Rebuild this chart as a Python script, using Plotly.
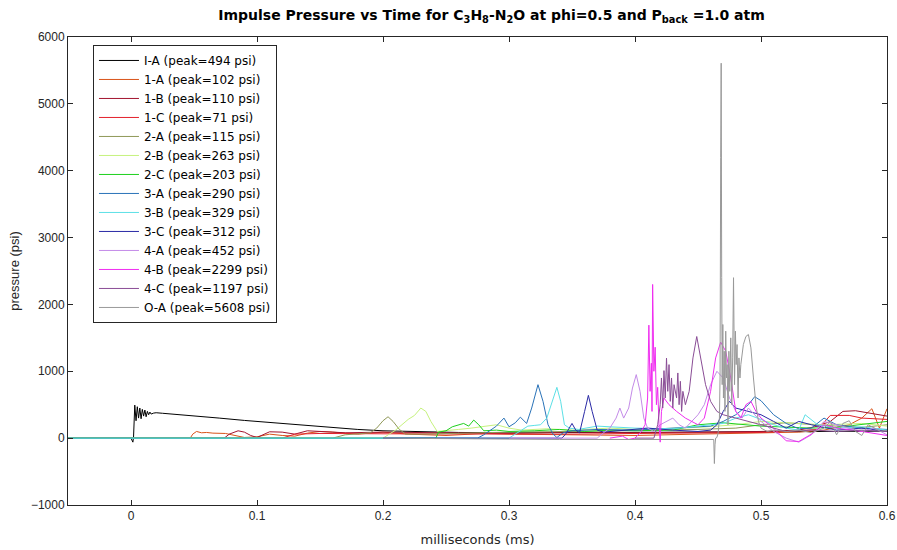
import plotly.graph_objects as go

# ---- pressure traces (time in ms, pressure in psi) ----
names = ["I-A", "1-A", "1-B", "1-C", "2-A", "2-B", "2-C",
         "3-A", "3-B", "3-C", "4-A", "4-B", "4-C", "O-A"]
peaks = [494, 102, 110, 71, 115, 263, 203, 290, 329, 312, 452, 2299, 1197, 5608]
colors = ["#000000", "#D95319", "#A2142F", "#E3212B", "#909858", "#C6F27E",
          "#1ED01E", "#2A73B8", "#5CE0E6", "#2A2AA6", "#C48BE8", "#F02CF0",
          "#8A4D96", "#999999"]

t_IA = [-0.05, 0.0, 0.0015, 0.002, 0.003, 0.004, 0.005, 0.006, 0.007, 0.008, 0.009,
        0.010, 0.011, 0.012, 0.013, 0.014, 0.015, 0.016, 0.018, 0.020, 0.025, 0.035,
        0.05, 0.07, 0.09, 0.10, 0.12, 0.14, 0.16, 0.18, 0.20, 0.23, 0.26, 0.30, 0.35,
        0.40, 0.45, 0.50, 0.55, 0.60]
p_IA = [0, 0, -60, 10, 494, 260, 470, 300, 450, 290, 430, 330, 420, 320, 400, 350,
        390, 360, 375, 380, 372, 358, 335, 300, 265, 250, 215, 185, 155, 130, 110,
        95, 85, 80, 80, 85, 90, 95, 100, 105]

t_1A = [-0.05, 0.047, 0.049, 0.052, 0.056, 0.06, 0.065, 0.07, 0.075, 0.08, 0.09, 0.1,
        0.11, 0.12, 0.13, 0.14, 0.15, 0.16, 0.18, 0.2, 0.22, 0.25, 0.28, 0.3, 0.35,
        0.4, 0.45, 0.5, 0.53, 0.55, 0.57, 0.58, 0.588, 0.594, 0.6]
p_1A = [0, 0, 60, 100, 80, 85, 75, 70, 70, 50, 10, 20, 60, 40, 30, 75, 100, 90, 60,
        90, 60, 40, 70, 60, 50, 40, 60, 80, 90, 120, 200, 300, 440, 150, 440]

t_1B = [-0.05, 0.074, 0.078, 0.085, 0.09, 0.095, 0.1, 0.105, 0.11, 0.12, 0.13, 0.14,
        0.15, 0.17, 0.2, 0.25, 0.3, 0.35, 0.4, 0.45, 0.5, 0.53, 0.545, 0.555, 0.565,
        0.575, 0.585, 0.6]
p_1B = [0, 0, 60, 110, 90, 40, 10, 50, 95, 90, 60, 110, 100, 80, 90, 80, 70, 90, 80,
        90, 100, 120, 180, 250, 400, 410, 380, 330]

t_1C = [-0.05, 0.12, 0.13, 0.15, 0.2, 0.25, 0.3, 0.35, 0.4, 0.45, 0.5, 0.52, 0.545,
        0.555, 0.57, 0.58, 0.6]
p_1C = [0, 0, 60, 70, 65, 60, 55, 60, 70, 75, 85, 100, 130, 340, 340, 300, 280]

t_2A = [-0.05, 0.16, 0.17, 0.19, 0.195, 0.2, 0.204, 0.208, 0.213, 0.218, 0.23, 0.25,
        0.28, 0.3, 0.35, 0.4, 0.45, 0.48, 0.5, 0.52, 0.54, 0.56, 0.58, 0.6]
p_2A = [0, 0, 50, 80, 150, 260, 320, 250, 130, 60, 60, 70, 80, 90, 100, 110, 130,
        150, 200, 230, 200, 180, 160, 200]

t_2B = [-0.05, 0.2, 0.21, 0.215, 0.22, 0.225, 0.23, 0.234, 0.238, 0.243, 0.25, 0.26,
        0.27, 0.28, 0.29, 0.3, 0.31, 0.33, 0.35, 0.38, 0.4, 0.45, 0.48, 0.5, 0.52,
        0.55, 0.58, 0.6]
p_2B = [0, 0, 120, 200, 280, 340, 450, 400, 250, 100, 110, 130, 150, 170, 200, 150,
        120, 140, 120, 150, 130, 160, 200, 250, 230, 200, 220, 180]

t_2C = [-0.05, 0.242, 0.244, 0.25, 0.255, 0.26, 0.264, 0.268, 0.272, 0.276, 0.28,
        0.29, 0.3, 0.32, 0.34, 0.36, 0.38, 0.4, 0.43, 0.45, 0.47, 0.5, 0.52, 0.54,
        0.56, 0.58, 0.6]
p_2C = [0, 0, 90, 110, 170, 200, 220, 180, 270, 200, 110, 120, 100, 110, 130, 100,
        120, 110, 120, 200, 230, 180, 170, 150, 160, 200, 250]

t_3A = [-0.05, 0.275, 0.28, 0.29, 0.296, 0.3, 0.305, 0.309, 0.314, 0.318, 0.323,
        0.327, 0.331, 0.335, 0.338, 0.343, 0.35, 0.37, 0.4, 0.42, 0.44, 0.46, 0.47,
        0.48, 0.49, 0.495, 0.5, 0.51, 0.52, 0.53, 0.54, 0.55, 0.56, 0.58, 0.6]
p_3A = [0, 0, 50, 180, 300, 170, 230, 314, 220, 450, 800, 550, 200, 60, 10, 80, 110,
        130, 120, 140, 150, 180, 250, 350, 500, 620, 560, 350, 220, 140, 150, 300,
        200, 150, 130]

t_3B = [-0.05, 0.3, 0.31, 0.315, 0.32, 0.325, 0.33, 0.335, 0.338, 0.341, 0.344,
        0.348, 0.355, 0.37, 0.4, 0.43, 0.45, 0.47, 0.48, 0.49, 0.5, 0.51, 0.52, 0.53,
        0.535, 0.545, 0.56, 0.58, 0.6]
p_3B = [0, 0, 120, 180, 190, 200, 300, 600, 760, 550, 200, 150, 130, 180, 150, 140,
        180, 220, 300, 350, 280, 200, 150, 120, 350, 200, 150, 170, 120]

t_3C = [0.2, 0.342, 0.345, 0.35, 0.353, 0.356, 0.36, 0.363, 0.366, 0.37, 0.375, 0.39,
        0.41, 0.43, 0.45, 0.46, 0.465, 0.47, 0.475, 0.48, 0.49, 0.5, 0.51, 0.52,
        0.53, 0.54, 0.56, 0.58, 0.6]
p_3C = [0, 0, 60, 220, 120, 80, 400, 640, 400, 120, 90, 120, 150, 120, 100, 120, 200,
        400, 550, 450, 400, 350, 250, 150, 250, 200, 120, 150, 100]

t_4A = [0.3, 0.37, 0.375, 0.38, 0.385, 0.388, 0.391, 0.395, 0.398, 0.401, 0.404,
        0.407, 0.41, 0.415, 0.42, 0.425, 0.43, 0.435, 0.44, 0.445, 0.45, 0.455, 0.46,
        0.465, 0.47, 0.475, 0.48, 0.485, 0.49, 0.495, 0.5, 0.51, 0.52, 0.53, 0.54,
        0.55, 0.56, 0.57, 0.58, 0.59, 0.6]
p_4A = [0, 0, 80, 150, 300, 450, 300, 450, 750, 950, 700, 300, 150, 100, 200, 250,
        300, 200, 150, 250, 350, 500, 800, 1000, 900, 600, 400, 300, 450, 350, 250,
        100, 0, -60, 50, 250, 200, 150, 100, 150, 50]

t_4B = [0.38, 0.39, 0.395, 0.4, 0.405, 0.408, 0.410, 0.411, 0.412, 0.413, 0.4135,
        0.414, 0.415, 0.416, 0.417, 0.418, 0.419, 0.420, 0.421, 0.423, 0.427, 0.433,
        0.44, 0.445, 0.45, 0.455, 0.46, 0.464, 0.468, 0.472, 0.476, 0.48, 0.484,
        0.488, 0.492, 0.496, 0.5, 0.51, 0.52, 0.53, 0.54, 0.55, 0.56, 0.58, 0.6]
p_4B = [0, 30, -20, 0, 100, 200, 600, 1690, 700, 1120, 400, 2299, 1000, 1360, 500,
        760, 220, -60, 400, 600, 500, 400, 300, 250, 200, 300, 700, 1200, 1436, 1300,
        900, 400, 300, 500, 550, 400, 300, 150, -40, -50, 60, 200, 150, 100, 40]

t_4C = [0.4, 0.415, 0.418, 0.420, 0.421, 0.422, 0.423, 0.424, 0.425, 0.426, 0.427,
        0.428, 0.429, 0.430, 0.431, 0.433, 0.434, 0.435, 0.436, 0.437, 0.438, 0.44,
        0.443, 0.446, 0.449, 0.452, 0.456, 0.46, 0.465, 0.47, 0.48, 0.49, 0.5, 0.51,
        0.52, 0.54, 0.56, 0.58, 0.6]
p_4C = [0, 0, 200, 500, 900, 450, 1010, 600, 1197, 700, 1100, 550, 900, 450, 800,
        600, 975, 500, 850, 400, 700, 500, 700, 1200, 1520, 1200, 800, 550, 400, 350,
        300, 250, 200, 150, 100, 120, 100, 120, 100]

t_OA = [0.2, 0.34, 0.4625, 0.4630, 0.4635, 0.4640, 0.4650, 0.4660, 0.4670, 0.4675,
        0.4680, 0.4684, 0.4688, 0.4692, 0.4697, 0.4702, 0.4708, 0.4714, 0.4720,
        0.4726, 0.4732, 0.4738, 0.4745, 0.4752, 0.4760, 0.4768, 0.4775, 0.4782,
        0.4790, 0.4797, 0.4803, 0.4810, 0.4818, 0.4825, 0.4833, 0.484, 0.486, 0.488,
        0.490, 0.492, 0.494, 0.496, 0.498, 0.500, 0.505, 0.51, 0.52, 0.53, 0.54,
        0.55, 0.555, 0.56, 0.565, 0.57, 0.575, 0.58, 0.585, 0.59, 0.595, 0.6]
p_OA = [0, -20, -20, -380, -100, 0, 10, 80, 300, 900, 4200, 5608, 2400, 800, 1700,
        600, 1300, 400, 1600, 900, 1100, 200, 1300, 700, 1500, 500, 1200, 2400, 800,
        1600, 1100, 1400, 600, 1200, 900, 1100, 1400, 1520, 1550, 1350, 900, 500, 250,
        150, 100, 120, 100, 120, 80, 150, 250, 50, 220, 260, 100, 40, 200, 150, 100,
        120]

times = [t_IA, t_1A, t_1B, t_1C, t_2A, t_2B, t_2C, t_3A, t_3B, t_3C, t_4A, t_4B, t_4C, t_OA]
pressures = [p_IA, p_1A, p_1B, p_1C, p_2A, p_2B, p_2C, p_3A, p_3B, p_3C, p_4A, p_4B, p_4C, p_OA]

x_ticks = [0, 0.1, 0.2, 0.3, 0.4, 0.5, 0.6]
y_ticks = [-1000, 0, 1000, 2000, 3000, 4000, 5000, 6000]

FONT = "Liberation Sans, Arial, sans-serif"
WIDE_FONT = "DejaVu Sans, Verdana, sans-serif"
AXIS_COLOR = "#262626"

fig = go.Figure()
for name, pk, col, t, p in zip(names, peaks, colors, times, pressures):
    fig.add_trace(go.Scatter(
        x=t, y=p, mode="lines",
        name=f"{name} (peak={pk} psi)",
        line=dict(color=col, width=1),
    ))

axis_common = dict(
    showgrid=False, zeroline=False, showline=True, linecolor=AXIS_COLOR,
    linewidth=1, mirror="ticks", ticks="inside", ticklen=5, tickcolor=AXIS_COLOR,
    tickfont=dict(family=FONT, size=12, color=AXIS_COLOR), automargin=False,
)

fig.update_layout(
    width=897, height=550,
    paper_bgcolor="white", plot_bgcolor="white",
    margin=dict(l=68, r=10, t=37, b=45),
    font=dict(family=FONT, color=AXIS_COLOR),
    title=dict(
        text="<b>Impulse Pressure vs Time for C<sub>3</sub>H<sub>8</sub>-N<sub>2</sub>O "
             "at phi=0.5 and P<sub>back</sub> =1.0 atm</b>",
        x=0.548, xanchor="center", y=0.972, yanchor="middle",
        font=dict(family=WIDE_FONT, size=14, color="#000000"),
    ),
    xaxis=dict(range=[-0.05, 0.6], tickvals=x_ticks,
               ticktext=[f"{v:g}" for v in x_ticks],
               title=dict(text="milliseconds (ms)", standoff=12,
                          font=dict(family=WIDE_FONT, size=13, color=AXIS_COLOR)),
               **axis_common),
    yaxis=dict(range=[-1000, 6000], tickvals=y_ticks,
               title=dict(text="pressure (psi)", standoff=8,
                          font=dict(family=FONT, size=13, color=AXIS_COLOR)),
               **axis_common),
    legend=dict(
        x=0.0305, y=0.983, xanchor="left", yanchor="top",
        bgcolor="white", bordercolor=AXIS_COLOR, borderwidth=1,
        font=dict(family=WIDE_FONT, size=12, color="#000000"),
        itemwidth=40, tracegroupgap=0,
    ),
    showlegend=True,
)

fig.write_html("out.html")
